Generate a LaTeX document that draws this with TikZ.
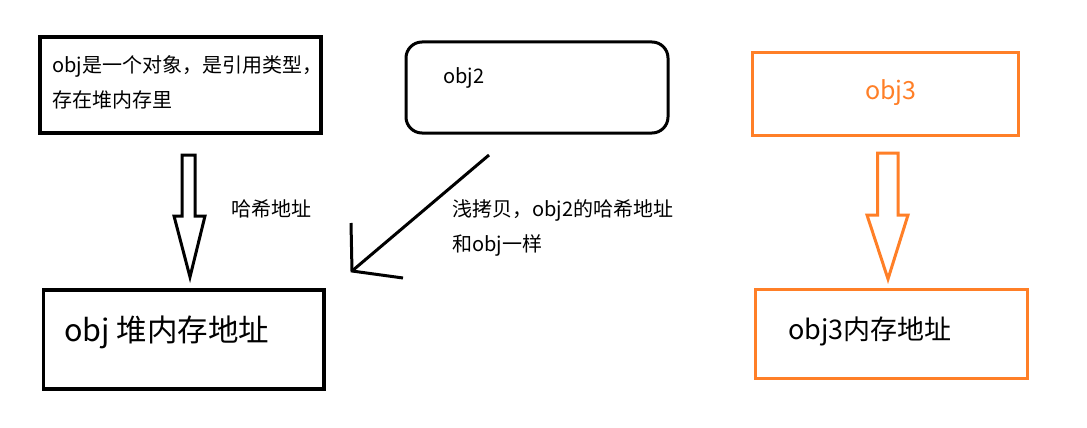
\documentclass[tikz,border=0pt]{standalone}
\usepackage{fontspec}
\setmainfont{Noto Sans CJK SC}
\definecolor{paintorange}{HTML}{FF7F27}
\tikzset{
  box/.style={draw=black, line width=3.5pt},
  obox/.style={draw=paintorange, line width=3pt},
  small/.style={anchor=west, inner sep=0pt, font=\fontsize{20}{24}\selectfont},
  blockarrow/.style={line width=3pt, line join=miter},
}
\begin{document}
\begin{tikzpicture}[x=1pt,y=-1pt]
\fill[white] (0,0) rectangle (1087,428);
\useasboundingbox (0,0) rectangle (1087,428);

% boxes
\draw[box, line width=4pt] (40,37) rectangle (321,133);
\draw[box, line width=3pt, rounded corners=16pt] (406,42) rectangle (668,133);
\draw[obox] (752,53) rectangle (1018,135);
\draw[box, line width=3.5pt] (43.5,290) rectangle (324,389);
\draw[obox] (755,289) rectangle (1027,378);

% texts
\node[small] (t1a) at (52,66) {obj是一个对象，是引用类型，};
\node[small] (t1b) at (52,100) {存在堆内存里};
\node[small] (t2) at (443,78) {obj2};
\node[anchor=center, inner sep=0pt, text=paintorange, font=\fontsize{25}{29}\selectfont] (t3) at (891,93) {obj3};
\node[small] (th) at (231,209) {哈希地址};
\node[small] (tq1) at (452,210) {浅拷贝，obj2的哈希地址};
\node[small] (tq2) at (452,245) {和obj一样};
\node[anchor=west, inner sep=0pt, font=\fontsize{30.5}{34}\selectfont] (t4) at (64,332) {obj 堆内存地址};
\node[anchor=west, inner sep=0pt, font=\fontsize{27}{31}\selectfont] (t5) at (788,331) {obj3内存地址};

% block arrow (black)
\draw[blockarrow] (182,155) -- (195,155) -- (195,216) -- (205,216) -- (190,277) -- (174,216) -- (182,216) -- cycle;
% block arrow (orange)
\draw[blockarrow, draw=paintorange] (877.5,153) -- (898,153) -- (898,215) -- (908,215) -- (888,279) -- (867,215) -- (877.5,215) -- cycle;

% freehand arrow
\coordinate (a0) at (489,155);
\coordinate (a1) at (352,271);
\coordinate (a2) at (351,223);
\coordinate (a3) at (403,278);
\draw[line width=3pt, line cap=butt] (a0) -- (a1);
\draw[line width=3pt] (a2) -- (a1) -- (a3);
\end{tikzpicture}
\end{document}
